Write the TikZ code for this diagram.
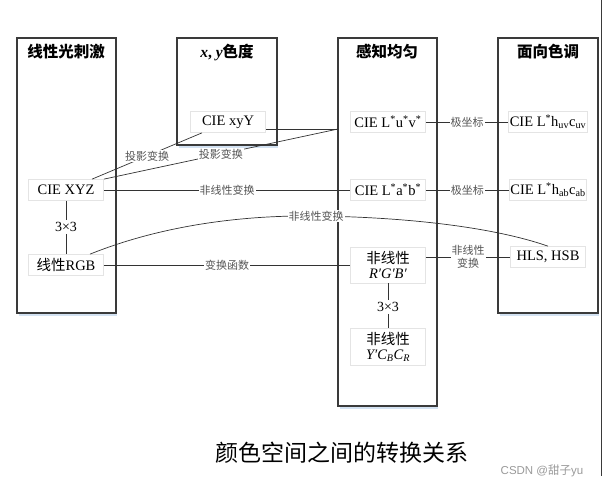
\documentclass[tikz,border=0pt]{standalone}
\usepackage{fontspec}
\setmainfont{Liberation Serif}
\newfontfamily\cjk{Noto Sans CJK SC}
\newfontfamily\sansf{Liberation Sans}
\usetikzlibrary{calc}
\definecolor{boxline}{HTML}{3A3A3A}
\definecolor{innerline}{HTML}{E4E4E4}
\definecolor{labgray}{HTML}{555555}
\definecolor{lineclr}{HTML}{333333}
\definecolor{shadowblue}{HTML}{D3E2F2}
\definecolor{markgray}{HTML}{9A9A9A}
\newcommand\zh[1]{{\cjk #1}}
\begin{document}
\begin{tikzpicture}[x=1pt,y=-1pt,
  col/.style={draw=boxline, line width=1.3pt},
  shade/.style={draw=shadowblue, line width=1.2pt},
  inner/.style={draw=innerline, line width=0.7pt, minimum width=75pt, minimum height=21pt, inner sep=1pt, fill=white, font=\fontsize{14.5}{16}\selectfont},
  head/.style={font=\fontsize{15.5}{18}\selectfont\bfseries},
  lab/.style={font=\fontsize{11}{13}\selectfont\cjk, text=labgray, fill=white, inner sep=1pt, align=center},
  mat/.style={font=\fontsize{14}{16}\selectfont, fill=white, inner sep=2pt},
  conn/.style={draw=lineclr, line width=0.7pt},
]
\useasboundingbox (0,0) rectangle (603,487);
\fill[white] (0,0) rectangle (603,487);
% column frames
\draw[shade] (19,315) -- (117,315);
\draw[shade] (179,147) -- (278,147);
\draw[shade] (340,408) -- (438,408);
\draw[shade] (500,315) -- (599,315);
\draw[col] (17,38) rectangle (116,313);
\draw[col] (177,38) rectangle (277,145);
\draw[col] (338,38) rectangle (437,406);
\draw[col] (498,38) rectangle (598,313);
% headers
\node[head] (h1) at (66,52) {\zh{\bfseries 线性光刺激}};
\node[head] (h2) at (227,52) {\textit{x}, \textit{y}\zh{\bfseries 色度}};
\node[head] (h3) at (387,52) {\zh{\bfseries 感知均匀}};
\node[head] (h4) at (548,52) {\zh{\bfseries 面向色调}};
% inner nodes
\node[inner] (xyY) at (228,122) {CIE xyY};
\node[inner] (luv) at (388,122) {CIE L\textsuperscript{*}u\textsuperscript{*}v\textsuperscript{*}};
\node[inner] (lhuv) at (548,122) {CIE L\textsuperscript{*}h\textsubscript{uv}c\textsubscript{uv}};
\node[inner] (xyz) at (66,190) {CIE XYZ};
\node[inner] (lab) at (388,190) {CIE L\textsuperscript{*}a\textsuperscript{*}b\textsuperscript{*}};
\node[inner] (lhab) at (548,190) {CIE L\textsuperscript{*}h\textsubscript{ab}c\textsubscript{ab}};
\node[inner] (rgb) at (66,265) {\zh{线性}RGB};
\node[inner, minimum height=36pt, align=center] (rgbp) at (388,265) {\zh{非线性}\\[-1pt]\textit{R′G′B′}};
\node[inner, minimum height=37pt, align=center] (ycc) at (388,347) {\zh{非线性}\\[-1pt]\textit{Y′C\textsubscript{B}C\textsubscript{R}}};
\node[inner] (hls) at (548,257) {HLS, HSB};
\node[mat] (m1) at (66,227) {3×3};
\node[mat] (m2) at (388,307) {3×3};
% connectors
\coordinate (pA) at (338,129);
\draw[conn] (xyY.east |- pA) -- (pA);
\draw[conn] (pA) -- node[lab, pos=0.5] {投影变换} (xyz.north east);
\draw[conn] ([xshift=-26pt]xyY.south) -- node[lab, pos=0.5] {投影变换} ([xshift=26pt]xyz.north);
\draw[conn] (xyz.east) -- node[lab] {非线性变换} (lab.west);
\draw[conn] (rgb.east) -- node[lab] {变换函数} (rgbp.west);
\draw[conn] (luv.east) -- node[lab] {极坐标} (lhuv.west);
\draw[conn] (lab.east) -- node[lab] {极坐标} (lhab.west);
\draw[conn] (rgbp.east |- hls.west) -- node[lab] {非线性\\变换} (hls.west);
\draw[conn] (xyz.south) -- (m1.north);
\draw[conn] (m1.south) -- (rgb.north);
\draw[conn] (rgbp.south) -- (m2.north);
\draw[conn] (m2.south) -- (ycc.north);
\coordinate (cm) at (316,216);
\draw[conn] ([xshift=24pt]rgb.north) .. controls (160,226) and (240,215) .. (cm)
  .. controls (400,217) and (490,226) .. (hls.north);
\node[lab] (cml) at (cm) {非线性变换};
% caption
\node[font=\fontsize{23}{26}\selectfont\cjk] (cap) at (342,453) {颜色空间之间的转换关系};
\node[font=\fontsize{11.5}{14}\selectfont, text=markgray] (mark) at (542,471) {\sansf CSDN @\zh{甜子}yu};
\draw[draw=boxline, line width=1.3pt] (601.8,0) -- (601.8,476);
\end{tikzpicture}
\end{document}
